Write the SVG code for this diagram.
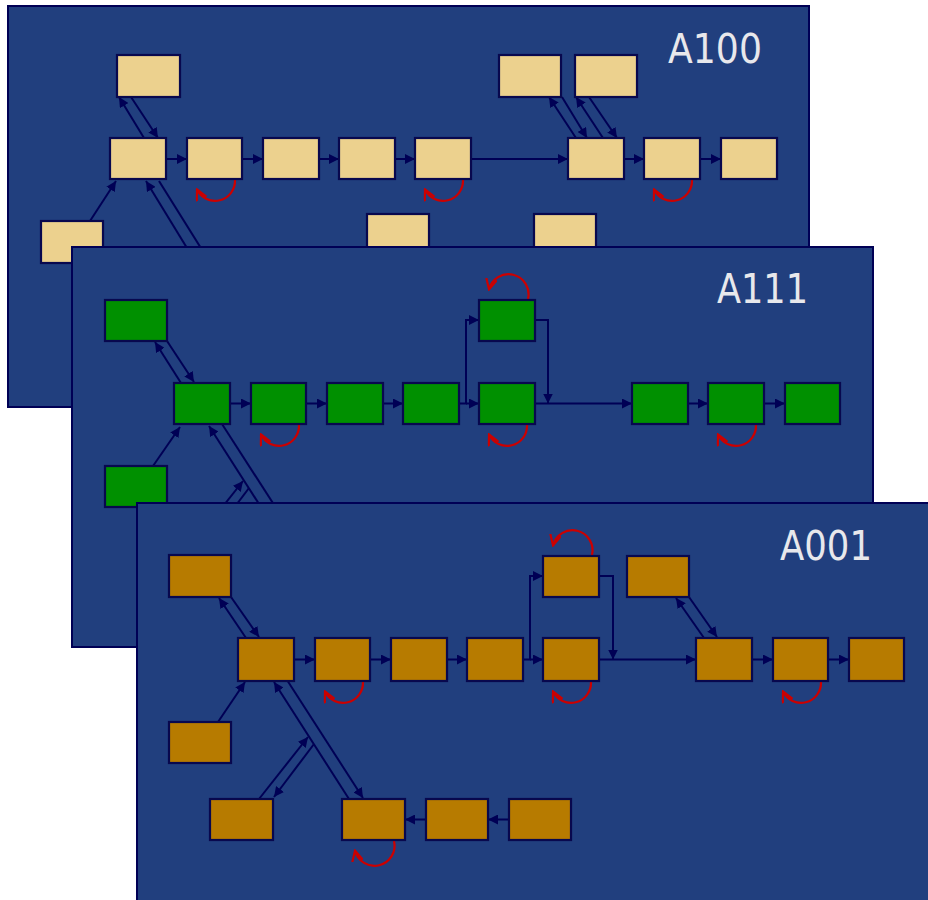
<svg xmlns="http://www.w3.org/2000/svg" width="928" height="900" viewBox="0 0 928 900">
<style>
.panel{fill:#213F7E;stroke:#000055;stroke-width:2}
.n rect{stroke:#08084E;stroke-width:2.2}
.tan rect{fill:#ECD18E}
.grn rect{fill:#009000}
.brn rect{fill:#B77B00}
.c path{fill:none;stroke:#000055;stroke-width:2}
.c path.a{marker-end:url(#a)}
.loop path{fill:none;stroke:#CC0000;stroke-width:2.2;marker-end:url(#r)}
.lbl{font-family:"DejaVu Sans","Liberation Sans",sans-serif;font-size:41px;fill:#E8E8EC}
</style>
<defs>
<marker id="a" viewBox="0 0 10 10" refX="10" refY="5" markerWidth="10" markerHeight="10" markerUnits="userSpaceOnUse" orient="auto"><path d="M0,0 L10,5 L0,10z" fill="#000055"/></marker>
<marker id="r" viewBox="0 0 10 10" refX="9" refY="5" markerWidth="12" markerHeight="12" markerUnits="userSpaceOnUse" orient="auto"><path d="M0,0.5 L9,5 L0,9.5" fill="none" stroke="#CC0000" stroke-width="1.8"/></marker>
</defs>
<rect width="928" height="900" fill="#FFFFFF"/>

<!-- Panel A100 -->
<g id="panelA100">
<rect class="panel" x="8" y="6" width="801" height="401"/>
<g id="connA100" class="c">
<path class="a" d="M144,138 L119,97"/>
<path class="a" d="M131,97 L158,138"/>
<path class="a" d="M90,221 L116,181"/>
<path class="a" d="M220,302 L146,181"/>
<path d="M159,181 L234,301"/>
<path class="a" d="M166,159 L187,159"/>
<path class="a" d="M242,159 L263,159"/>
<path class="a" d="M319,159 L339,159"/>
<path class="a" d="M395,159 L415,159"/>
<path class="a" d="M471,159 L568,159"/>
<path class="a" d="M624,159 L644,159"/>
<path class="a" d="M700,159 L721,159"/>
<path class="a" d="M576,138 L549,97"/>
<path class="a" d="M562,97 L587,138"/>
<path class="a" d="M603,138 L576,97"/>
<path class="a" d="M589,97 L617,138"/>
</g>
<g class="loop">
<path d="M235,180 A20,20 0 0 1 197,189.5"/>
<path d="M463,180 A20,20 0 0 1 425,189.5"/>
<path d="M692,180 A20,20 0 0 1 654,189.5"/>
</g>
<g id="a100_top" class="n tan"><rect x="117" y="55" width="63" height="42"/></g>
<g id="a100_hub" class="n tan"><rect x="110" y="138" width="56" height="41"/></g>
<g id="a100_n2" class="n tan"><rect x="187" y="138" width="55" height="41"/></g>
<g id="a100_n3" class="n tan"><rect x="263" y="138" width="56" height="41"/></g>
<g id="a100_n4" class="n tan"><rect x="339" y="138" width="56" height="41"/></g>
<g id="a100_n5" class="n tan"><rect x="415" y="138" width="56" height="41"/></g>
<g id="a100_n6" class="n tan"><rect x="568" y="138" width="56" height="41"/></g>
<g id="a100_n7" class="n tan"><rect x="644" y="138" width="56" height="41"/></g>
<g id="a100_n8" class="n tan"><rect x="721" y="138" width="56" height="41"/></g>
<g id="a100_tr1" class="n tan"><rect x="499" y="55" width="62" height="42"/></g>
<g id="a100_tr2" class="n tan"><rect x="575" y="55" width="62" height="42"/></g>
<g id="a100_bl" class="n tan"><rect x="41" y="221" width="62" height="42"/></g>
<g id="a100_b1" class="n tan"><rect x="367" y="214" width="62" height="42"/></g>
<g id="a100_b2" class="n tan"><rect x="534" y="214" width="62" height="42"/></g>
<text class="lbl" x="668" y="63" textLength="94" lengthAdjust="spacingAndGlyphs">A100</text>
</g>

<!-- Panel A111 -->
<g id="panelA111">
<rect class="panel" x="72" y="247" width="801" height="400"/>
<g id="connA111" class="c">
<path class="a" d="M181,383 L155,342"/>
<path class="a" d="M167,341 L194,382"/>
<path class="a" d="M153,466 L180,427"/>
<path class="a" d="M284,543 L209,426"/>
<path d="M222,424 L298,542"/>
<path class="a" d="M194,543 L243,481"/>
<path d="M249,488 L209,541"/>
<path class="a" d="M230,403.5 L251,403.5"/>
<path class="a" d="M306,403.5 L327,403.5"/>
<path class="a" d="M383,403.5 L403,403.5"/>
<path class="a" d="M459,403.5 L466,403.5 L466,320 L479,320"/>
<path class="a" d="M466,403.5 L479,403.5"/>
<path class="a" d="M535,320 L548,320 L548,403.5"/>
<path class="a" d="M535,403.5 L632,403.5"/>
<path class="a" d="M688,403.5 L708,403.5"/>
<path class="a" d="M764,403.5 L785,403.5"/>
</g>
<g class="loop">
<path d="M299,425 A20,20 0 0 1 261,434.5"/>
<path d="M528,299 A20,20 0 0 0 489,289.5"/>
<path d="M527,425 A20,20 0 0 1 489,434.5"/>
<path d="M756,425 A20,20 0 0 1 718,434.5"/>
</g>
<g id="a111_tl" class="n grn"><rect x="105" y="300" width="62" height="41"/></g>
<g id="a111_hub" class="n grn"><rect x="174" y="383" width="56" height="41"/></g>
<g id="a111_n2" class="n grn"><rect x="251" y="383" width="55" height="41"/></g>
<g id="a111_n3" class="n grn"><rect x="327" y="383" width="56" height="41"/></g>
<g id="a111_n4" class="n grn"><rect x="403" y="383" width="56" height="41"/></g>
<g id="a111_u5" class="n grn"><rect x="479" y="300" width="56" height="41"/></g>
<g id="a111_l5" class="n grn"><rect x="479" y="383" width="56" height="41"/></g>
<g id="a111_n6" class="n grn"><rect x="632" y="383" width="56" height="41"/></g>
<g id="a111_n7" class="n grn"><rect x="708" y="383" width="56" height="41"/></g>
<g id="a111_n8" class="n grn"><rect x="785" y="383" width="55" height="41"/></g>
<g id="a111_bl" class="n grn"><rect x="105" y="466" width="62" height="41"/></g>
<text class="lbl" x="717" y="303" textLength="91" lengthAdjust="spacingAndGlyphs">A111</text>
</g>

<!-- Panel A001 -->
<g id="panelA001">
<rect class="panel" x="137" y="503" width="800" height="400"/>
<g id="connA001" class="c">
<path class="a" d="M246,638 L219,598"/>
<path class="a" d="M231,597 L259,637"/>
<path class="a" d="M218,722 L245,682"/>
<path class="a" d="M349,799 L274,682"/>
<path class="a" d="M287,680 L363,798"/>
<path class="a" d="M259,799 L308,737"/>
<path class="a" d="M314,744 L274,797"/>
<path class="a" d="M426,819.5 L405,819.5"/>
<path class="a" d="M509,819.5 L488,819.5"/>
<path class="a" d="M294,659.5 L315,659.5"/>
<path class="a" d="M370,659.5 L391,659.5"/>
<path class="a" d="M447,659.5 L467,659.5"/>
<path class="a" d="M523,659.5 L530,659.5 L530,576 L543,576"/>
<path class="a" d="M530,659.5 L543,659.5"/>
<path class="a" d="M599,576 L613,576 L613,659.5"/>
<path class="a" d="M599,659.5 L696,659.5"/>
<path class="a" d="M704,638 L676,598"/>
<path class="a" d="M689,597 L717,637"/>
<path class="a" d="M752,659.5 L773,659.5"/>
<path class="a" d="M828,659.5 L849,659.5"/>
</g>
<g class="loop">
<path d="M363,682 A20,20 0 0 1 325,691.5"/>
<path d="M592,555 A20,20 0 0 0 553,545.5"/>
<path d="M591,682 A20,20 0 0 1 553,691.5"/>
<path d="M821,682 A20,20 0 0 1 783,691.5"/>
<path d="M394,841 A20,20 0 0 1 355,850.5"/>
</g>
<g id="a001_tl" class="n brn"><rect x="169" y="555" width="62" height="42"/></g>
<g id="a001_hub" class="n brn"><rect x="238" y="638" width="56" height="43"/></g>
<g id="a001_n2" class="n brn"><rect x="315" y="638" width="55" height="43"/></g>
<g id="a001_n3" class="n brn"><rect x="391" y="638" width="56" height="43"/></g>
<g id="a001_n4" class="n brn"><rect x="467" y="638" width="56" height="43"/></g>
<g id="a001_u5" class="n brn"><rect x="543" y="556" width="56" height="41"/></g>
<g id="a001_l5" class="n brn"><rect x="543" y="638" width="56" height="43"/></g>
<g id="a001_tr" class="n brn"><rect x="627" y="556" width="62" height="41"/></g>
<g id="a001_n6" class="n brn"><rect x="696" y="638" width="56" height="43"/></g>
<g id="a001_n7" class="n brn"><rect x="773" y="638" width="55" height="43"/></g>
<g id="a001_n8" class="n brn"><rect x="849" y="638" width="55" height="43"/></g>
<g id="a001_lm" class="n brn"><rect x="169" y="722" width="62" height="41"/></g>
<g id="a001_bl" class="n brn"><rect x="210" y="799" width="63" height="41"/></g>
<g id="a001_b1" class="n brn"><rect x="342" y="799" width="63" height="41"/></g>
<g id="a001_b2" class="n brn"><rect x="426" y="799" width="62" height="41"/></g>
<g id="a001_b3" class="n brn"><rect x="509" y="799" width="62" height="41"/></g>
<text class="lbl" x="780" y="560" textLength="92" lengthAdjust="spacingAndGlyphs">A001</text>
</g>
</svg>
